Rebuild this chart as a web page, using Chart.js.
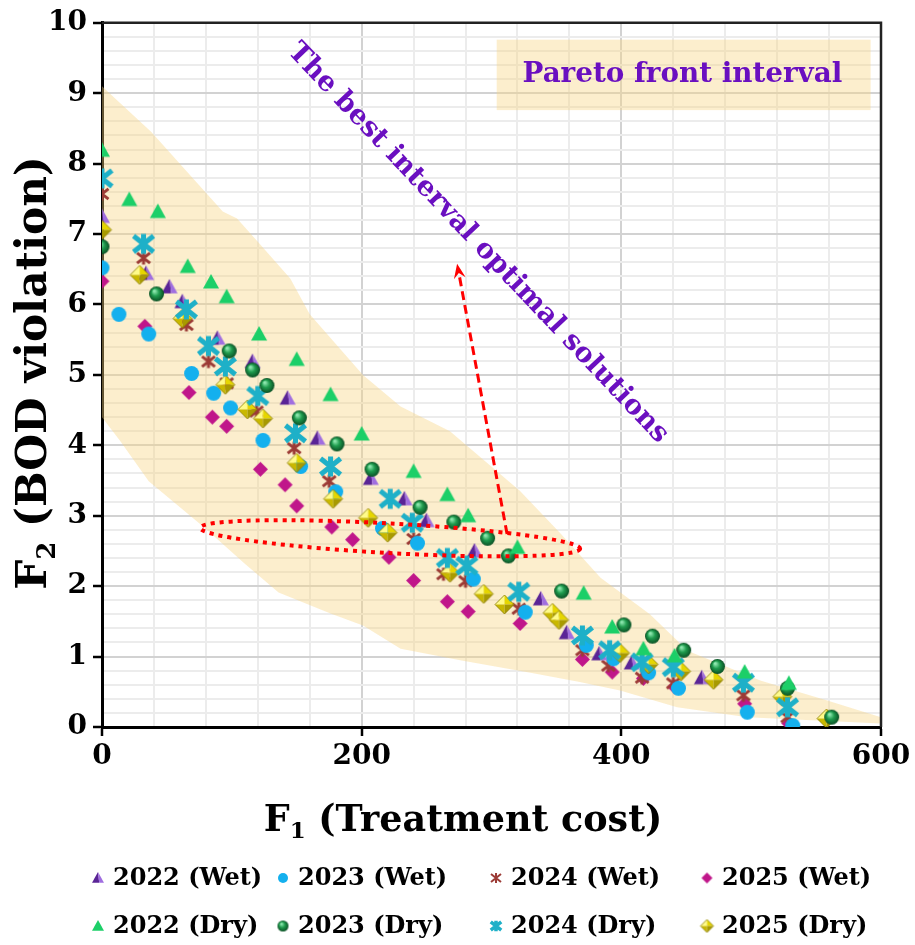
<!DOCTYPE html>
<html>
<head>
<meta charset="utf-8">
<script src="https://cdn.jsdelivr.net/npm/chart.js@4.4.1/dist/chart.umd.min.js"></script>
<style>
  html, body { margin: 0; padding: 0; background: #fff; }
  #wrap { width: 915px; height: 945px; }
</style>
</head>
<body>
<div id="wrap"><canvas id="paretoChart"></canvas></div>
<script>
// series names (legend order)
const seriesLabels = ['2022 (Wet)', '2023 (Wet)', '2024 (Wet)', '2025 (Wet)',
                      '2022 (Dry)', '2023 (Dry)', '2024 (Dry)', '2025 (Dry)'];

// [F1 treatment cost, F2 BOD violation]
const wet2022 = [[0,7.25],[34,6.44],[52,6.25],[62,6.04],[89,5.52],[116,5.19],[143,4.67],[166,4.1],[207,3.53],
                 [233,3.24],[250,2.93],[287,2.5],[338,1.82],[358,1.34],[383,1.04],[408,0.91],[462,0.7]];
const wet2023 = [[0,6.52],[13,5.86],[36,5.58],[69,5.02],[86,4.74],[99,4.53],[124,4.07],[153,3.7],[180,3.34],
                 [216,2.82],[243,2.61],[286,2.1],[326,1.63],[373,1.16],[394,0.97],[421,0.77],[444,0.55],[497,0.21],[532,0.02]];
const wet2024 = [[0,7.57],[32,6.66],[65,5.71],[82,5.19],[96,4.88],[119,4.48],[148,3.96],[175,3.49],[240,2.67],
                 [263,2.17],[280,2.07],[321,1.68],[370,1.09],[390,0.87],[416,0.7],[440,0.62],[494,0.45],[528,0.14]];
const wet2025 = [[0,6.33],[33,5.69],[67,4.75],[85,4.4],[96,4.27],[122,3.66],[141,3.44],[150,3.14],[177,2.84],
                 [193,2.66],[221,2.41],[240,2.08],[266,1.78],[282,1.64],[322,1.47],[370,0.96],[393,0.78],[417,0.69],
                 [441,0.57],[495,0.33],[529,0.05]];
const dry2022 = [[0,8.19],[21,7.49],[43,7.32],[66,6.54],[84,6.32],[96,6.11],[121,5.58],[150,5.22],[176,4.72],
                 [200,4.16],[240,3.63],[266,3.3],[282,3.0],[320,2.55],[371,1.9],[393,1.42],[417,1.11],[441,1.01],
                 [495,0.78],[529,0.62]];
const dry2023 = [[0,6.82],[42,6.15],[98,5.34],[116,5.07],[127,4.85],[152,4.39],[181,4.02],[208,3.66],[245,3.12],
                 [271,2.91],[297,2.68],[313,2.43],[354,1.93],[402,1.45],[424,1.29],[448,1.09],[474,0.86],[528,0.55],[562,0.14]];
const dry2024 = [[0,7.79],[32,6.86],[65,5.93],[82,5.41],[95,5.12],[120,4.7],[149,4.17],[176,3.7],[222,3.24],
                 [239,2.9],[266,2.4],[281,2.29],[321,1.92],[370,1.3],[391,1.09],[416,0.92],[440,0.85],[494,0.63],[528,0.28]];
const dry2025 = [[0,7.06],[29,6.42],[62,5.8],[95,4.86],[112,4.51],[124,4.38],[150,3.75],[178,3.24],[205,2.97],
                 [220,2.76],[268,2.19],[294,1.89],[310,1.74],[347,1.62],[352,1.52],[399,1.05],[421,0.89],[446,0.79],
                 [471,0.67],[524,0.43],[558,0.12]];

// Pareto front interval (shaded band)
const bandUpper = [[0,9.1],[38,8.45],[93,7.32],[104,7.22],[120,6.89],[145,6.37],[160,5.86],[201,5.0],[230,4.55],
                   [268,4.2],[322,3.35],[353,2.75],[384,2.12],[422,1.6],[443,1.23],[450,1.09],[507,0.66],[558,0.38],[600,0.14]];
const bandLower = [[0,4.4],[14,4.06],[36,3.49],[79,2.83],[110,2.32],[136,1.91],[176,1.61],[201,1.44],[230,1.11],
                   [278,0.94],[330,0.77],[368,0.64],[399,0.52],[443,0.28],[497,0.14],[600,0.05]];

const xTickLabels = [0, 200, 400, 600];
const yTickLabels = [0, 1, 2, 3, 4, 5, 6, 7, 8, 9, 10];

const SERIF = '"DejaVu Serif", serif';
const PURPLE = '#6a0fc0';
const BAND = 'rgba(247, 212, 130, 0.4)';

// marker images (excel-like shaded markers)
function makeMarker(kind, size, lw) {
  const c = document.createElement('canvas');
  c.width = c.height = Math.ceil(size + 4);
  const g = c.getContext('2d');
  const m = c.width / 2, r = size / 2;
  if (kind === 'pyramid') {
    g.fillStyle = '#5a2496';
    g.beginPath(); g.moveTo(m, m - r); g.lineTo(m - r, m + r * 0.8); g.lineTo(m + r * 0.2, m + r * 0.8); g.closePath(); g.fill();
    g.fillStyle = '#a06ee0';
    g.beginPath(); g.moveTo(m, m - r); g.lineTo(m + r * 0.2, m + r * 0.8); g.lineTo(m + r, m + r * 0.8); g.closePath(); g.fill();
  } else if (kind === 'tri') {
    g.fillStyle = '#1ccf68';
    g.beginPath(); g.moveTo(m, m - r); g.lineTo(m - r, m + r * 0.8); g.lineTo(m + r, m + r * 0.8); g.closePath(); g.fill();
  } else if (kind === 'dot') {
    g.fillStyle = '#14b0ee';
    g.beginPath(); g.arc(m, m, r, 0, Math.PI * 2); g.fill();
  } else if (kind === 'sphere') {
    const grd = g.createRadialGradient(m - r * 0.3, m - r * 0.4, r * 0.1, m, m, r);
    grd.addColorStop(0, '#8fe8b0'); grd.addColorStop(0.45, '#1f9c4e'); grd.addColorStop(1, '#0a4f24');
    g.fillStyle = grd;
    g.beginPath(); g.arc(m, m, r, 0, Math.PI * 2); g.fill();
  } else if (kind === 'diamond') {
    g.fillStyle = '#c0168a';
    g.beginPath(); g.moveTo(m, m - r); g.lineTo(m + r, m); g.lineTo(m, m + r); g.lineTo(m - r, m); g.closePath(); g.fill();
  } else if (kind === 'octa') {
    const faces = [['#fffb8a', -1, -1], ['#e6d600', 1, -1], ['#c9b800', -1, 1], ['#a89a00', 1, 1]];
    faces.forEach(([col, sx, sy]) => {
      g.fillStyle = col;
      g.beginPath(); g.moveTo(m, m); g.lineTo(m + sx * r, m); g.lineTo(m, m + sy * r); g.closePath(); g.fill();
    });
    g.strokeStyle = '#8a7e00'; g.lineWidth = 0.8;
    g.beginPath(); g.moveTo(m, m - r); g.lineTo(m + r, m); g.lineTo(m, m + r); g.lineTo(m - r, m); g.closePath(); g.stroke();
  } else if (kind === 'star') {
    g.strokeStyle = lw.color; g.lineWidth = lw.width;
    const rr = r - lw.width / 2;
    g.beginPath();
    g.moveTo(m - rr, m - rr * 0.8); g.lineTo(m + rr, m + rr * 0.8);
    g.moveTo(m + rr, m - rr * 0.8); g.lineTo(m - rr, m + rr * 0.8);
    g.moveTo(m, m - rr); g.lineTo(m, m + rr);
    g.stroke();
  }
  return c;
}

const seriesData = [wet2022, wet2023, wet2024, wet2025, dry2022, dry2023, dry2024, dry2025];
const plotMarkers = [
  makeMarker('pyramid', 16), makeMarker('dot', 15), makeMarker('star', 16, {color: '#9c3b36', width: 3}),
  makeMarker('diamond', 15), makeMarker('tri', 16), makeMarker('sphere', 15),
  makeMarker('star', 25, {color: '#1eb0c8', width: 5}), makeMarker('octa', 19)
];
const legendMarkers = [
  makeMarker('pyramid', 12), makeMarker('dot', 10), makeMarker('star', 12, {color: '#9c3b36', width: 2}),
  makeMarker('diamond', 11), makeMarker('tri', 12), makeMarker('sphere', 11),
  makeMarker('star', 14, {color: '#1eb0c8', width: 3.5}), makeMarker('octa', 13)
];

const datasets = seriesData.map((pts, i) => ({
  label: seriesLabels[i],
  data: pts.map(p => ({x: p[0], y: p[1]})),
  pointStyle: plotMarkers[i],
  pointRadius: 8,
  pointHoverRadius: 8,
  order: i < 4 ? 2 : 1
}));
datasets.push({
  type: 'line',
  label: 'Pareto front interval',
  data: bandUpper.concat(bandLower.slice().reverse()).map(p => ({x: p[0], y: p[1]})),
  fill: 'shape',
  backgroundColor: BAND,
  borderWidth: 0,
  borderColor: 'rgba(0,0,0,0)',
  pointRadius: 0,
  showLine: true,
  order: 9
});

function near(v, list) { return list.some(t => Math.abs(v - t) < 1e-6); }

function fitSize(ctx, text, target, base) {
  ctx.font = 'bold ' + base + 'px ' + SERIF;
  return base * target / ctx.measureText(text).width;
}

function drawSubTitle(ctx, main, sub, rest, cx, cy, size, rot) {
  ctx.save();
  ctx.translate(cx, cy);
  ctx.rotate(rot);
  const big = 'bold ' + size + 'px ' + SERIF;
  const small = 'bold ' + Math.round(size * 0.62) + 'px ' + SERIF;
  ctx.font = big;
  const w1 = ctx.measureText(main).width, w3 = ctx.measureText(rest).width;
  ctx.font = small;
  const w2 = ctx.measureText(sub).width;
  let x = -(w1 + w2 + w3) / 2;
  const base = size * 0.36;
  ctx.fillStyle = '#000';
  ctx.textAlign = 'left';
  ctx.textBaseline = 'alphabetic';
  ctx.font = big; ctx.fillText(main, x, base); x += w1;
  ctx.font = small; ctx.fillText(sub, x, base + size * 0.2); x += w2;
  ctx.font = big; ctx.fillText(rest, x, base);
  ctx.restore();
}

// ellipse, arrow, labels and the Pareto box
const annotations = {
  id: 'annotations',
  afterDatasetsDraw(chart) {
    const {ctx, scales: {x, y}} = chart;
    const px = v => x.getPixelForValue(v), py = v => y.getPixelForValue(v);
    ctx.save();

    // Pareto front interval box
    ctx.fillStyle = BAND;
    ctx.fillRect(px(304), py(9.76), px(592) - px(304), py(8.76) - py(9.76));
    ctx.fillStyle = PURPLE;
    ctx.textAlign = 'center';
    ctx.textBaseline = 'middle';
    const s1 = fitSize(ctx, 'Pareto front interval', 320, 26);
    ctx.font = 'bold ' + s1 + 'px ' + SERIF;
    ctx.fillText('Pareto front interval', px(447), py(9.26));

    // rotated label
    const txt = 'The best interval optimal solutions';
    const s2 = fitSize(ctx, txt, 540, 26);
    ctx.save();
    ctx.translate(px(289.5), py(6.87));
    ctx.rotate(46.5 * Math.PI / 180);
    ctx.font = 'bold ' + s2 + 'px ' + SERIF;
    ctx.fillText(txt, 0, 0);
    ctx.restore();

    // dotted ellipse
    const cx = px(222), cy = py(2.68);
    ctx.strokeStyle = '#ff0000';
    ctx.lineWidth = 4;
    ctx.setLineDash([4, 5]);
    ctx.beginPath();
    ctx.ellipse(cx, cy, px(146.5) - px(0), py(0) - py(0.21), 0.055, 0, Math.PI * 2);
    ctx.stroke();

    // dashed arrow
    const x0 = px(312), y0 = py(2.74), x1 = px(273.5), y1 = py(6.58);
    const ang = Math.atan2(y1 - y0, x1 - x0);
    const head = 16;
    ctx.lineWidth = 3;
    ctx.setLineDash([9, 5]);
    ctx.beginPath();
    ctx.moveTo(x0, y0);
    ctx.lineTo(x1 - Math.cos(ang) * head * 0.8, y1 - Math.sin(ang) * head * 0.8);
    ctx.stroke();
    ctx.setLineDash([]);
    ctx.fillStyle = '#ff0000';
    ctx.beginPath();
    ctx.moveTo(x1, y1);
    ctx.lineTo(x1 - Math.cos(ang - 0.38) * head, y1 - Math.sin(ang - 0.38) * head);
    ctx.lineTo(x1 - Math.cos(ang) * head * 0.6, y1 - Math.sin(ang) * head * 0.6);
    ctx.lineTo(x1 - Math.cos(ang + 0.38) * head, y1 - Math.sin(ang + 0.38) * head);
    ctx.closePath();
    ctx.fill();
    ctx.restore();
  },
  afterDraw(chart) {
    const {ctx, chartArea: a} = chart;
    ctx.save();
    // plot frame top and right
    ctx.strokeStyle = '#222';
    ctx.lineWidth = 2.5;
    ctx.beginPath();
    ctx.moveTo(a.left, a.top); ctx.lineTo(a.right, a.top); ctx.lineTo(a.right, a.bottom);
    ctx.stroke();

    // axis titles
    const sx = fitSize(ctx, 'F1 (Treatment cost)', 408, 34);
    drawSubTitle(ctx, 'F', '1', ' (Treatment cost)', 463, 818, sx, 0);
    const sy = fitSize(ctx, 'F2 (BOD violation)', 445, 34);
    drawSubTitle(ctx, 'F', '2', ' (BOD violation)', 31, 373, sy, -Math.PI / 2);

    // legend, two rows of four
    const legendX = [98, 283, 496, 707], legendY = [878, 926];
    ctx.font = 'bold 24px ' + SERIF;
    ctx.fillStyle = '#000';
    ctx.textAlign = 'left';
    ctx.textBaseline = 'middle';
    seriesLabels.forEach((lab, i) => {
      const cx = legendX[i % 4], cy = legendY[Math.floor(i / 4)];
      const img = legendMarkers[i];
      ctx.drawImage(img, cx - img.width / 2, cy - img.height / 2);
      ctx.fillText(lab, cx + 15, cy + 1);
    });
    ctx.restore();
  }
};

const MAJOR = '#d2d2d2', MINOR = '#ececec';

new Chart(document.getElementById('paretoChart'), {
  type: 'scatter',
  data: {datasets},
  options: {
    responsive: true,
    maintainAspectRatio: false,
    animation: false,
    events: [],
    layout: {padding: {left: 0, right: 34, top: 20, bottom: 0}},
    plugins: {
      legend: {display: false},
      tooltip: {enabled: false}
    },
    scales: {
      x: {
        type: 'linear',
        min: 0,
        max: 600,
        afterFit: s => { s.height = 218; },
        ticks: {
          stepSize: 40,
          autoSkip: false,
          maxRotation: 0,
          padding: 4,
          color: '#000',
          font: {family: SERIF, weight: 'bold', size: 28},
          callback: v => near(v, xTickLabels) ? String(v) : ''
        },
        grid: {
          color: c => c.tick && near(c.tick.value, xTickLabels) ? MAJOR : MINOR,
          lineWidth: 2,
          tickLength: 9,
          tickWidth: 2.5,
          tickColor: c => c.tick && near(c.tick.value, xTickLabels) ? '#000' : 'rgba(0,0,0,0)'
        },
        border: {color: '#000', width: 3}
      },
      y: {
        min: 0,
        max: 10,
        afterFit: s => { s.width = 102; },
        ticks: {
          stepSize: 0.2,
          autoSkip: false,
          padding: 6,
          color: '#000',
          font: {family: SERIF, weight: 'bold', size: 28},
          callback: v => near(v, yTickLabels) ? String(Math.round(v)) : ''
        },
        grid: {
          color: c => c.tick && near(c.tick.value, yTickLabels) ? MAJOR : MINOR,
          lineWidth: 2,
          tickLength: 9,
          tickWidth: 2.5,
          tickColor: c => c.tick && near(c.tick.value, yTickLabels) ? '#000' : 'rgba(0,0,0,0)'
        },
        border: {color: '#000', width: 3}
      }
    }
  },
  plugins: [annotations]
});
</script>
</body>
</html>
